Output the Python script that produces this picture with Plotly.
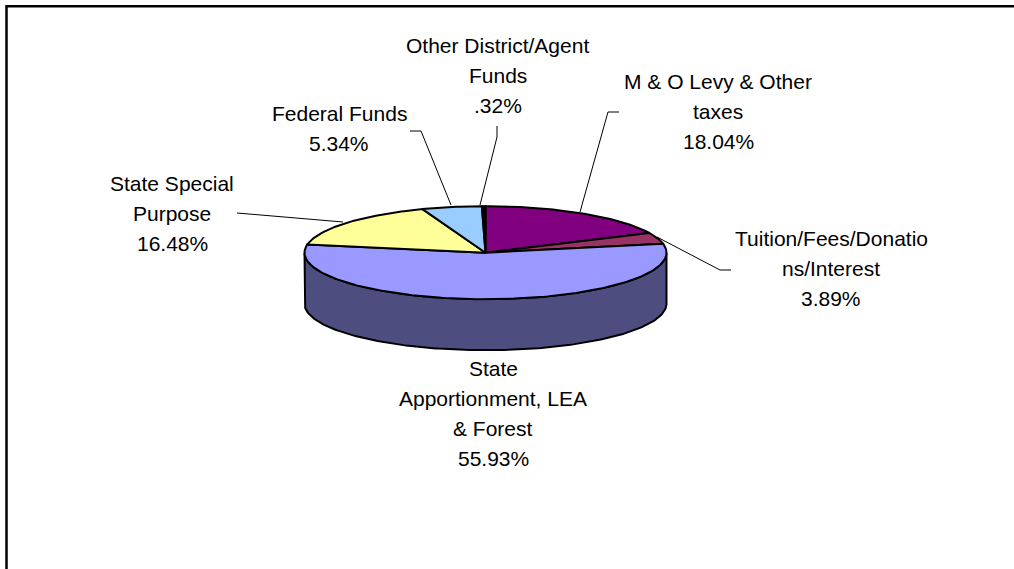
import numpy as np
import plotly.graph_objects as go

categories = ["M & O Levy & Other taxes", "Tuition/Fees/Donations/Interest",
              "State Apportionment, LEA & Forest", "State Special Purpose",
              "Federal Funds", "Other District/Agent Funds"]
values = [18.04, 3.89, 55.93, 16.48, 5.34, 0.32]
colors = ["#800080", "#993366", "#9999FF", "#FFFF99", "#99CCFF", "#000000"]
side_color = "#4D4D80"

label_lines = [
    ["M & O Levy & Other", "taxes", "18.04%"],
    ["Tuition/Fees/Donatio", "ns/Interest", "3.89%"],
    ["State", "Apportionment, LEA", "& Forest", "55.93%"],
    ["State Special", "Purpose", "16.48%"],
    ["Federal Funds", "5.34%"],
    ["Other District/Agent", "Funds", ".32%"],
]
label_centre_x = [718, 831, 493, 172, 339, 497.5]
label_first_y = [81, 238, 368, 183, 113, 45]
LINE_GAP = 30
leaders = [
    [(580, 212), (608, 112), (619, 112)],
    [(657, 237), (720, 270), (731, 270)],
    [],
    [(343, 222), (237, 213)],
    [(451, 205), (421, 131), (410, 131)],
    [(480, 205), (497, 137), (497, 126)],
]

W, H = 1014, 569
CX, CY, RX, RY, DEPTH = 485.5, 252.7, 181, 46.5, 51

xr = [-CX / RX, (W - CX) / RX]
yr = [-(H - CY) / RY, CY / RY]
depth_u = DEPTH / RY

fig = go.Figure()

# side wall: visible front half of the rim
t = np.radians(np.linspace(90, 270, 181))
sx = np.sin(t)
sy = np.cos(t)
fig.add_trace(go.Scatter(
    x=np.r_[sx, sx[::-1], sx[0]], y=np.r_[sy, sy[::-1] - depth_u, sy[0]],
    mode="lines", fill="toself", fillcolor=side_color,
    line=dict(color="#000000", width=2), hoverinfo="skip", showlegend=False))

# top face
edges = np.r_[0, np.cumsum(values)] / sum(values) * 360
for i, name in enumerate(categories):
    a = np.radians(np.arange(edges[i], edges[i + 1], 1.0).tolist() + [edges[i + 1]])
    fig.add_trace(go.Scatter(
        x=np.r_[0, np.sin(a), 0], y=np.r_[0, np.cos(a), 0],
        mode="lines", fill="toself", fillcolor=colors[i], name=name,
        line=dict(color="#000000", width=2), showlegend=False))

def px(x): return (x - CX) / RX
def py(y): return (CY - y) / RY

for seg in leaders:
    if seg:
        fig.add_trace(go.Scatter(
            x=[px(p[0]) for p in seg], y=[py(p[1]) for p in seg], mode="lines",
            line=dict(color="#000000", width=1), hoverinfo="skip", showlegend=False))

annotations = []
for lines, lx, ly in zip(label_lines, label_centre_x, label_first_y):
    for j, s in enumerate(lines):
        annotations.append(dict(
            x=px(lx), y=py(ly + j * LINE_GAP), xref="x", yref="y", text=s,
            showarrow=False, xanchor="center", yanchor="middle",
            font=dict(family="Liberation Sans", size=21, color="#000000")))

fig.update_layout(
    width=W, height=H, autosize=False,
    margin=dict(l=0, r=0, t=0, b=0),
    paper_bgcolor="#FFFFFF", plot_bgcolor="#FFFFFF",
    xaxis=dict(visible=False, range=xr, fixedrange=True),
    yaxis=dict(visible=False, range=yr, fixedrange=True),
    annotations=annotations,
    shapes=[dict(type="rect", xref="x", yref="y", x0=px(6.5), x1=px(1100), y0=py(6.3), y1=py(700),
                 line=dict(color="#000000", width=2.5), fillcolor="rgba(0,0,0,0)")],
)
fig.write_html("out.html", config=dict(displayModeBar=False),
               post_script="document.body.style.margin='0';document.documentElement.style.overflow='hidden';")
